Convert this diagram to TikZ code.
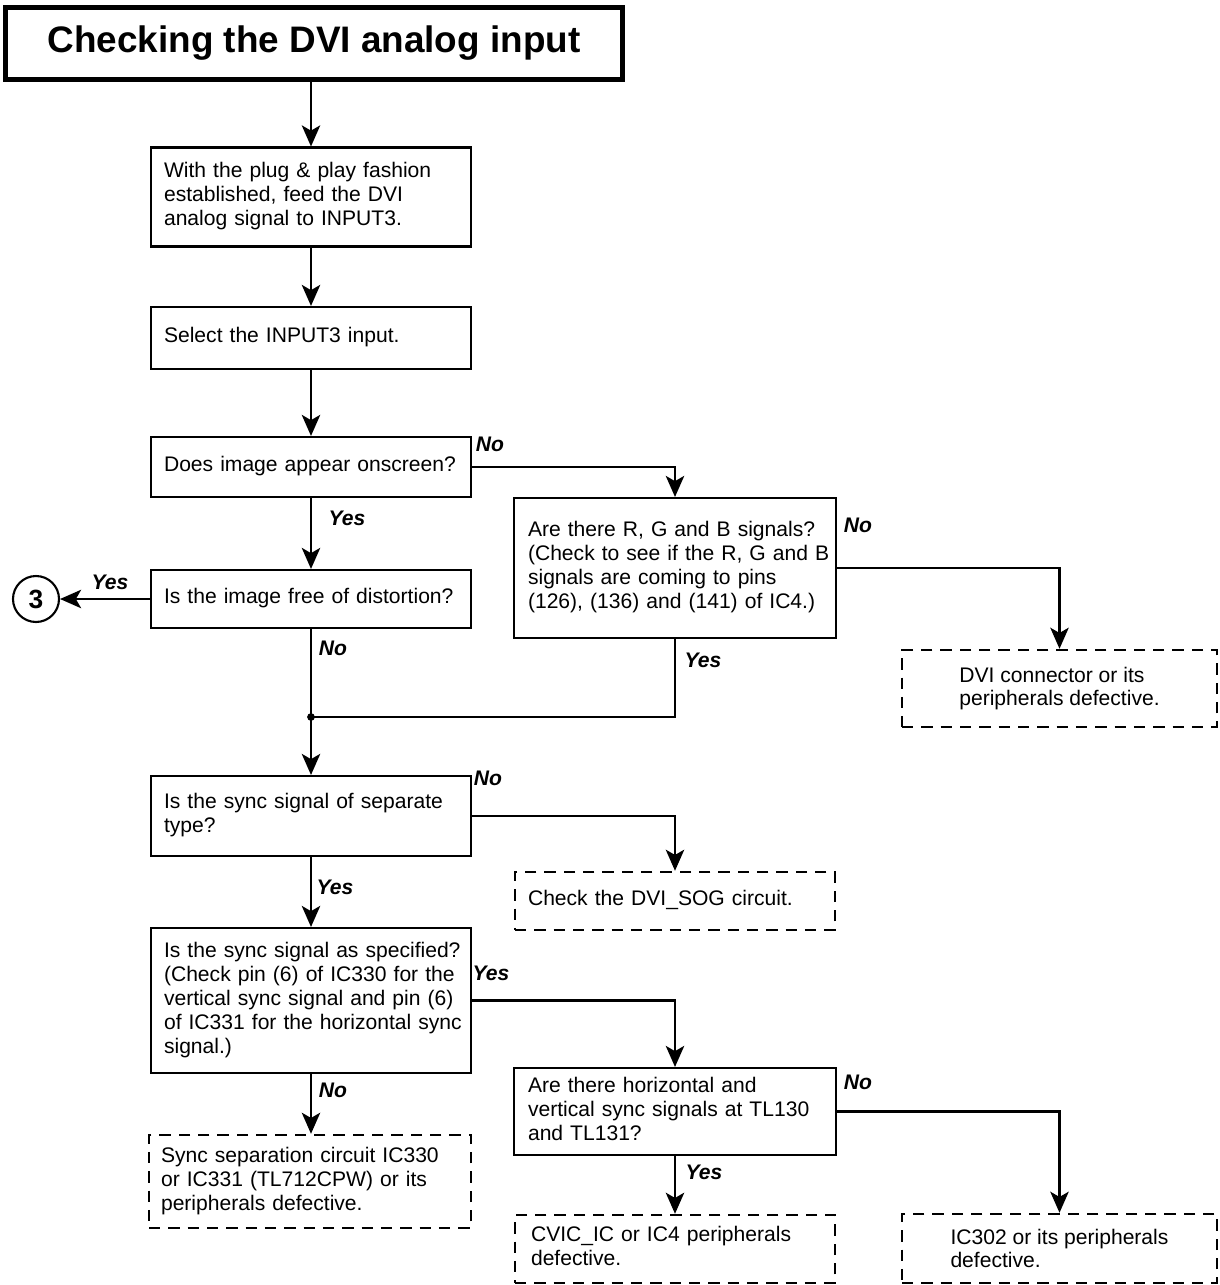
\documentclass[tikz,border=0pt]{standalone}
\usepackage{fontspec}
\setmainfont{Liberation Sans}
\usetikzlibrary{arrows.meta}

\newcommand{\boxlines}[1]{\begin{tabular}{@{}l@{}}#1\end{tabular}}

\tikzset{
  stepbox/.style={draw, line width=1.2pt, align=left, inner xsep=0.26cm, inner ysep=0pt,
    text width=5.88cm, font=\fontsize{12}{13.6}\selectfont},
  endbox/.style={stepbox, line width=1.4pt, dash pattern=on 6.5pt off 4.5pt},
  faultbox/.style={draw, line width=1.4pt, dash pattern=on 6.5pt off 4.5pt, align=left,
    minimum width=6.3cm, font=\fontsize{12}{13.6}\selectfont},
  flow/.style={line width=1.2pt, -{Stealth[length=12pt, width=10.5pt, inset=3pt]}},
  answer/.style={font=\fontsize{12}{14}\selectfont\bfseries\itshape, inner sep=0pt},
}

\begin{document}
\begin{tikzpicture}[x=0.02cm,y=-0.02cm]
\useasboundingbox (0,0) rectangle (1220,1285);
% title
\node[draw, line width=2.8pt, minimum width=12.34cm, minimum height=1.44cm,
  font=\fontsize{21}{25}\selectfont\bfseries] (title) at (314,43.5) {Checking the DVI analog input};
% main column
\node[stepbox, minimum height=1.98cm] (feed) at (311,197)
  {\boxlines{With the plug \& play fashion\\established, feed the DVI\\analog signal to INPUT3.}};
\node[stepbox, minimum height=1.24cm] (select) at (311,338) {\boxlines{Select the INPUT3 input.}};
\node[stepbox, minimum height=1.2cm] (onscreen) at (311,467) {\boxlines{Does image appear onscreen?}};
\node[stepbox, minimum height=1.16cm] (distort) at (311,599) {\boxlines{Is the image free of distortion?}};
\coordinate (join) at (311,717);
\node[stepbox, minimum height=1.6cm] (septype) at (311,816) {\boxlines{Is the sync signal of separate\\type?}};
\node[stepbox, minimum height=2.9cm] (spec) at (311,1000.5)
  {\boxlines{Is the sync signal as specified?\\(Check pin (6) of IC330 for the\\vertical sync signal and pin (6)\\of IC331 for the horizontal sync\\signal.)}};
\node[endbox, text width=5.96cm, inner xsep=0.24cm, minimum height=1.86cm] (sepfail) at (310,1181.5)
  {\boxlines{Sync separation circuit IC330\\or IC331 (TL712CPW) or its\\peripherals defective.}};
\node[draw, circle, line width=1.2pt, minimum size=0.92cm, inner sep=0pt,
  font=\fontsize{15}{15}\selectfont\bfseries] (c3) at (36,599) {3};
% right column
\node[stepbox, text width=5.88cm, inner xsep=0.28cm, minimum height=2.8cm] (rgb) at (675,568)
  {\boxlines{Are there R, G and B signals?\\(Check to see if the R, G and B\\signals are coming to pins\\(126), (136) and (141) of IC4.)}};
\node[endbox, minimum height=1.16cm] (sogcheck) at (675,901) {\boxlines{Check the DVI\_SOG circuit.}};
\node[stepbox, text width=5.88cm, inner xsep=0.28cm, minimum height=1.74cm] (hvsync) at (675,1111.5)
  {\boxlines{Are there horizontal and\\vertical sync signals at TL130\\and TL131?}};
\node[endbox, text width=5.76cm, inner xsep=0.32cm, minimum height=1.36cm] (cvicfail) at (675,1249)
  {\boxlines{CVIC\_IC or IC4 peripherals\\defective.}};
\node[faultbox, minimum height=1.54cm] (dvifail) at (1059.5,688.5) {DVI connector or its\\peripherals defective.};
\node[faultbox, minimum height=1.38cm] (icfail) at (1059.5,1248.5) {IC302 or its peripherals\\defective.};
% connectors
\draw[flow] (title.south -| feed.north) -- (feed.north);
\draw[flow] (feed) -- (select);
\draw[flow] (select) -- (onscreen);
\draw[flow] (onscreen) -- (distort);
\draw[flow] (onscreen.east) -| (rgb.north);
\draw[flow] (distort.west) -- (c3.east);
\draw[line width=1.2pt] (distort.south) -- (join);
\draw[line width=1.2pt] (rgb.south) |- (join);
\fill (join) circle (2.2pt);
\draw[flow] (join) -- (septype.north);
\draw[flow] (septype.east) -| (sogcheck.north);
\draw[flow] (septype) -- (spec);
\draw[flow] (spec.south) -- (spec.south |- sepfail.north);
\draw[flow] (spec.east) -| (hvsync.north);
\draw[flow] (rgb.east) -| (dvifail.north);
\draw[flow] (hvsync.east) -| (icfail.north);
\draw[flow] (hvsync) -- (cvicfail);
% answers
\node[answer] (a1) at (490,444) {No};
\node[answer] (a2) at (347,518) {Yes};
\node[answer] (a3) at (110,582) {Yes};
\node[answer] (a4) at (333,648) {No};
\node[answer] (a5) at (858,525) {No};
\node[answer] (a6) at (703,660) {Yes};
\node[answer] (a7) at (488,778) {No};
\node[answer] (a8) at (335,887) {Yes};
\node[answer] (a9) at (491,973) {Yes};
\node[answer] (a10) at (333,1090) {No};
\node[answer] (a11) at (858,1082) {No};
\node[answer] (a12) at (704,1172) {Yes};
\end{tikzpicture}
\end{document}
